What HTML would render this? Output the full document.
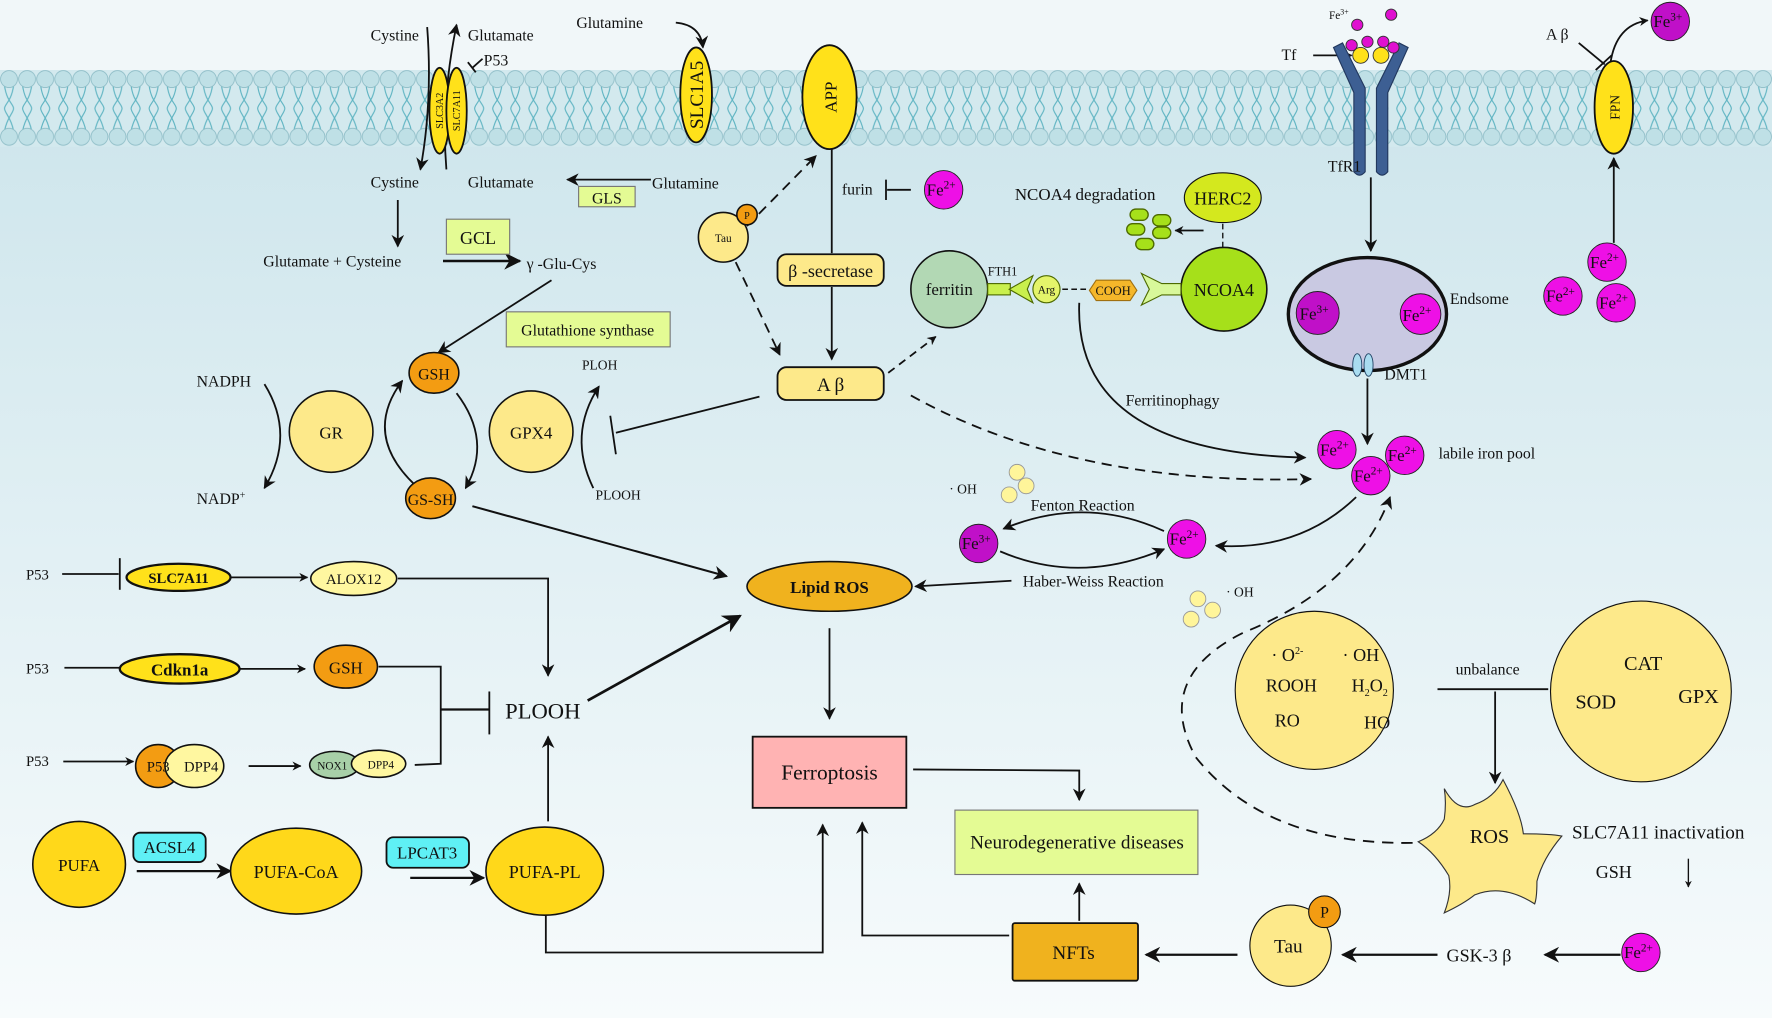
<!DOCTYPE html>
<html><head><meta charset="utf-8"><style>
html,body{margin:0;padding:0;width:1772px;height:1018px;overflow:hidden;background:#fff}
svg{display:block}
text{font-family:"Liberation Serif",serif;fill:#111}
</style></head><body>
<svg width="1772" height="1018" viewBox="0 0 1568 901" preserveAspectRatio="none" xmlns="http://www.w3.org/2000/svg">
<defs>
<linearGradient id="bg" x1="0" y1="0" x2="0" y2="1">
<stop offset="0" stop-color="#c9e3ea"/><stop offset="0.55" stop-color="#e2f0f4"/><stop offset="1" stop-color="#f7fbfc"/>
</linearGradient>
<pattern id="mem" x="0" y="62" width="16" height="68" patternUnits="userSpaceOnUse">
<path d="M4 14 C6 28 12 30 12 34 C12 38 6 42 4 54 M12 14 C10 28 4 30 4 34 C4 38 10 42 12 54" stroke="#5fb4c2" stroke-width="1" fill="none"/>
<circle cx="8" cy="8" r="7.5" fill="#bfe0e6" stroke="#8dbcc6" stroke-width="0.7"/>
<circle cx="8" cy="59" r="7.5" fill="#bfe0e6" stroke="#8dbcc6" stroke-width="0.7"/>
</pattern>
<marker id="a" viewBox="0 0 10 10" refX="9" refY="5" markerWidth="7" markerHeight="7" orient="auto-start-reverse"><path d="M0 0 L10 5 L0 10 L3 5 Z" fill="#111"/></marker>
<marker id="b" viewBox="0 0 10 10" refX="9" refY="5" markerWidth="5" markerHeight="5" orient="auto-start-reverse"><path d="M0 0 L10 5 L0 10 L3 5 Z" fill="#111"/></marker>
</defs>
<rect x="0" y="0" width="1568" height="901" fill="url(#bg)"/>
<rect x="0" y="0" width="1568" height="62" fill="#f1f7f9"/>
<rect x="0" y="62" width="1568" height="68" fill="#d3e9ee"/>
<rect x="0" y="62" width="1568" height="68" fill="url(#mem)"/>

<g stroke="#111" stroke-width="1.6" fill="none">
<path d="M378 24 Q383 90 372 150" marker-end="url(#a)"/>
<path d="M395 150 Q390 90 404 22" marker-end="url(#a)"/>
<path d="M427 52 L418 60"/><path d="M414 55 L421 64"/>
<path d="M598 20 Q620 22 622 42" marker-end="url(#a)"/>
<path d="M576 159 L502 159" marker-end="url(#a)"/>
<path d="M352 177 L352 218" marker-end="url(#a)"/>
<path d="M392 231 L460 231" stroke-width="2.2" marker-end="url(#a)"/>
<path d="M488 248 L388 312" marker-end="url(#a)"/>
<path d="M234 340 Q262 385 234 432" marker-end="url(#a)"/>
<path d="M368 430 Q320 385 356 337" marker-end="url(#a)"/>
<path d="M404 348 Q436 390 412 432" marker-end="url(#a)"/>
<path d="M525 432 Q502 385 530 342" marker-end="url(#a)"/>
<path d="M672 351 L545 383"/><path d="M540 368 L545 402"/>
<path d="M418 448 L643 510" stroke-width="1.8" marker-end="url(#a)"/>
<path d="M736 132 L736 224"/>
<path d="M736 254 L736 318" marker-end="url(#a)"/>
<path d="M785 168 L806 168"/><path d="M784 159 L784 177"/>
<path d="M661 200 L722 138" stroke-dasharray="9 6" marker-end="url(#a)"/>
<path d="M651 232 L690 314" stroke-dasharray="9 6" marker-end="url(#a)"/>
<path d="M786 330 L828 298" stroke-dasharray="7 5" marker-end="url(#b)"/>
<path d="M806 350 Q950 430 1160 424" stroke-dasharray="9 6" marker-end="url(#a)"/>
<path d="M955 268 Q950 400 1155 405" marker-end="url(#a)"/>
<path d="M1082 198 L1082 222" stroke-dasharray="5 3" stroke-width="1.2"/>
<path d="M1065 204 L1040 204" marker-end="url(#b)"/>
<path d="M940 256 L962 256" stroke-dasharray="5 3" stroke-width="1.4"/>
<path d="M1162 49 L1196 49" marker-end="url(#b)"/>
<path d="M1213 157 L1213 222" marker-end="url(#a)"/>
<path d="M1186 278 L1230 278" stroke-width="2.2" marker-end="url(#a)"/>
<path d="M1265 300 Q1215 298 1210 312"/>
<path d="M1210 335 L1210 393" marker-end="url(#a)"/>
<path d="M1428 215 L1428 140" marker-end="url(#a)"/>
<path d="M1425 56 Q1430 22 1458 18" marker-end="url(#b)"/>
<path d="M1397 38 L1420 57"/><path d="M1412 62 L1426 49"/>
<path d="M1030 470 Q960 438 888 468" marker-end="url(#a)"/>
<path d="M885 488 Q955 518 1030 486" marker-end="url(#a)"/>
<path d="M1200 440 Q1150 488 1076 483" marker-end="url(#a)"/>
<path d="M895 514 L810 519" marker-end="url(#a)"/>
<path d="M55 508 L105 508"/><path d="M106 494 L106 522"/>
<path d="M204 511 L272 511" marker-end="url(#b)"/>
<path d="M352 512 L485 512 L485 598" marker-end="url(#a)"/>
<path d="M57 591 L120 591" marker-end="url(#b)"/>
<path d="M212 592 L270 592" marker-end="url(#b)"/>
<path d="M335 590 L390 590 L390 676 L367 677"/>
<path d="M390 628 L433 628" stroke-width="2"/><path d="M433 612 L433 650"/>
<path d="M56 674 L118 674" marker-end="url(#b)"/>
<path d="M220 678 L266 678" marker-end="url(#b)"/>
<path d="M520 620 L655 545" stroke-width="2.4" marker-end="url(#a)"/>
<path d="M485 727 L485 652" marker-end="url(#a)"/>
<path d="M121 771 L204 771" stroke-width="2" marker-end="url(#a)"/>
<path d="M363 777 L428 777" stroke-width="2" marker-end="url(#a)"/>
<path d="M483 810 L483 843 L728 843 L728 730" marker-end="url(#a)"/>
<path d="M734 556 L734 636" marker-end="url(#a)"/>
<path d="M808 681 L955 682 L955 708" marker-end="url(#a)"/>
<path d="M955 815 L955 782" marker-end="url(#a)"/>
<path d="M893 828 L763 828 L763 728" marker-end="url(#a)"/>
<path d="M1095 845 L1014 845" stroke-width="2" marker-end="url(#a)"/>
<path d="M1272 845 L1188 845" stroke-width="2" marker-end="url(#a)"/>
<path d="M1434 845 L1367 845" stroke-width="2" marker-end="url(#a)"/>
<path d="M1272 610 L1370 610"/>
<path d="M1323 612 L1323 693" marker-end="url(#a)"/>
<path d="M1494 760 L1494 785" stroke-width="1.2" marker-end="url(#b)"/>
<path d="M1250 746 Q1120 748 1058 670 Q1020 600 1100 560 Q1200 520 1230 440" stroke-dasharray="10 7" marker-end="url(#a)"/>
</g>

<g stroke="#111" stroke-width="1.6">
<ellipse cx="389" cy="98" rx="9" ry="38" fill="#ffe11a"/>
<ellipse cx="404" cy="98" rx="9" ry="38" fill="#ffe11a"/>
<ellipse cx="616" cy="84" rx="14" ry="42" fill="#ffe11a"/>
<ellipse cx="734" cy="86" rx="24" ry="46" fill="#ffe11a"/>
<ellipse cx="1428" cy="95" rx="17" ry="41" fill="#ffe11a"/>
</g>
<text transform="translate(392,98) rotate(-90)" font-size="9" text-anchor="middle">SLC3A2</text>
<text transform="translate(407,98) rotate(-90)" font-size="9" text-anchor="middle">SLC7A11</text>
<text transform="translate(622,84) rotate(-90)" font-size="17" text-anchor="middle">SLC1A5</text>
<text transform="translate(740,86) rotate(-90)" font-size="15" text-anchor="middle">APP</text>
<text transform="translate(1433,95) rotate(-90)" font-size="12" text-anchor="middle">FPN</text>

<g fill="#3d5f93" stroke="#22385e" stroke-width="1">
<path d="M1180 42 L1188 38 L1208 78 L1208 152 Q1203 158 1198 152 L1198 82 Z"/>
<path d="M1246 42 L1238 38 L1218 78 L1218 152 Q1223 158 1228 152 L1228 82 Z"/>
</g>
<g stroke="#333" stroke-width="0.8">
<circle cx="1204" cy="49" r="7" fill="#ffe11a"/><circle cx="1222" cy="49" r="7" fill="#ffe11a"/>
<g fill="#e010d0"><circle cx="1196" cy="40" r="5"/><circle cx="1210" cy="37" r="5"/><circle cx="1224" cy="37" r="5"/><circle cx="1233" cy="42" r="5"/><circle cx="1201" cy="22" r="5"/><circle cx="1231" cy="13" r="5"/></g>
</g>
<text x="1176" y="17" font-size="10">Fe<tspan dy="-4" font-size="7">3+</tspan></text>
<text x="1134" y="53" font-size="14">Tf</text>
<text x="1175" y="152" font-size="14">TfR1</text>

<g stroke="#777" stroke-width="1">
<rect x="512" y="165" width="50" height="18" fill="#e4fb94"/>
<rect x="395" y="194" width="56" height="31" fill="#e4fb94"/>
<rect x="448" y="276" width="145" height="31" fill="#e4fb94"/>
<rect x="845" y="717" width="215" height="57" fill="#e4fb94"/>
</g>
<g stroke="#111" stroke-width="1.6">
<rect x="688" y="225" width="94" height="28" rx="8" fill="#fde98a"/>
<rect x="688" y="325" width="94" height="29" rx="8" fill="#fde98a"/>
<rect x="666" y="652" width="136" height="63" fill="#ffb3b3"/>
<rect x="896" y="817" width="111" height="51" rx="2" fill="#f0b21e"/>
<rect x="118" y="737" width="64" height="26" rx="6" fill="#5ff0f5"/>
<rect x="342" y="741" width="73" height="27" rx="6" fill="#5ff0f5"/>
</g>

<g stroke="#111" stroke-width="1.4">
<ellipse cx="384" cy="330" rx="22" ry="18" fill="#f39c12"/>
<ellipse cx="381" cy="441" rx="22" ry="18" fill="#f39c12"/>
<ellipse cx="293" cy="382" rx="37" ry="36" fill="#fde98a"/>
<ellipse cx="470" cy="382" rx="37" ry="36" fill="#fde98a"/>
<circle cx="640" cy="210" r="22" fill="#fde98a"/>
<circle cx="661" cy="190" r="9" fill="#f39c12"/>
<ellipse cx="734" cy="519" rx="73" ry="22" fill="#f0b21e"/>
<ellipse cx="158" cy="511" rx="46" ry="12" fill="#ffe11a" stroke-width="2"/>
<ellipse cx="313" cy="512" rx="38" ry="15" fill="#fff7a0"/>
<ellipse cx="159" cy="592" rx="53" ry="13" fill="#ffe11a" stroke-width="2"/>
<ellipse cx="306" cy="590" rx="28" ry="19" fill="#f39c12"/>
<ellipse cx="140" cy="678" rx="20" ry="19" fill="#f39c12"/>
<ellipse cx="172" cy="678" rx="26" ry="19" fill="#fff7a0"/>
<ellipse cx="296" cy="677" rx="22" ry="12" fill="#a8d0a8"/>
<ellipse cx="335" cy="676" rx="24" ry="12" fill="#fff7a0"/>
<ellipse cx="70" cy="765" rx="41" ry="38" fill="#ffd81a"/>
<ellipse cx="262" cy="771" rx="58" ry="38" fill="#ffd81a"/>
<ellipse cx="482" cy="771" rx="52" ry="39" fill="#ffd81a"/>
<circle cx="1142" cy="837" r="36" fill="#fde98a" stroke-width="1"/>
<circle cx="1172" cy="807" r="14" fill="#f39c12" stroke-width="1"/>
<circle cx="1163" cy="611" r="70" fill="#fde98a" stroke-width="1"/>
<circle cx="1452" cy="612" r="80" fill="#fde98a" stroke-width="1"/>
<ellipse cx="1210" cy="278" rx="70" ry="50" fill="#c9c9e2" stroke-width="3"/>
<circle cx="840" cy="256" r="34" fill="#b2d8b4"/>
<ellipse cx="1083" cy="256" rx="38" ry="37" fill="#a6e01a"/>
<ellipse cx="1082" cy="175" rx="34" ry="22" fill="#d4e81e" stroke-width="1"/>
</g>
<path d="M1278 698 Q1290 720 1305 712 Q1322 706 1330 690 Q1346 720 1348 738 Q1372 738 1382 740 Q1365 760 1360 780 Q1360 795 1358 800 Q1330 782 1305 792 Q1295 800 1278 808 Q1285 790 1282 775 Q1270 755 1255 745 Q1272 738 1278 725 Q1280 710 1278 698 Z" fill="#fde98a" stroke="#333" stroke-width="1"/>

<g stroke="#4d6a00" stroke-width="1">
<rect x="874" y="251" width="20" height="10" fill="#c9f04d"/>
<path d="M893 256 L914 244 L909 256 L914 268 Z" fill="#c9f04d"/>
<circle cx="926" cy="256" r="12" fill="#e4f46a"/>
<path d="M1045 251 L1028 251 L1010 242 L1017 256 L1010 270 L1028 261 L1045 261 Z" fill="#d8f89a"/>
<path d="M970 248 L1000 248 L1006 257 L1000 266 L970 266 L964 257 Z" fill="#f5b72a" stroke="#a07010"/>
</g>
<g fill="#a6e01a" stroke="#4d6a00" stroke-width="1.2">
<rect x="1000" y="185" width="16" height="10" rx="5"/><rect x="1020" y="190" width="16" height="10" rx="5"/>
<rect x="997" y="198" width="16" height="10" rx="5"/><rect x="1020" y="201" width="16" height="10" rx="5"/>
<rect x="1005" y="211" width="16" height="10" rx="5"/>
</g>

<g stroke="#222" stroke-width="0.8">
<g fill="#ee10e6">
<circle cx="835" cy="168" r="17"/><circle cx="1257" cy="278" r="18"/>
<circle cx="1183" cy="398" r="17"/><circle cx="1243" cy="403" r="17"/><circle cx="1213" cy="421" r="17"/>
<circle cx="1422" cy="232" r="17"/><circle cx="1383" cy="262" r="17"/><circle cx="1430" cy="268" r="17"/>
<circle cx="1050" cy="477" r="17"/><circle cx="1452" cy="843" r="17"/>
</g>
<g fill="#c010c8">
<circle cx="1166" cy="277" r="19"/><circle cx="866" cy="481" r="17"/><circle cx="1478" cy="19" r="17"/>
</g>
<g fill="#fff59a" stroke="#999">
<circle cx="900" cy="418" r="7"/><circle cx="908" cy="430" r="7"/><circle cx="893" cy="438" r="7"/>
<circle cx="1060" cy="530" r="7"/><circle cx="1073" cy="540" r="7"/><circle cx="1054" cy="548" r="7"/>
</g>
</g>
<ellipse cx="1201" cy="323" rx="4" ry="10" fill="#a9dcf0" stroke="#246" stroke-width="0.8"/>
<ellipse cx="1211" cy="323" rx="4" ry="10" fill="#a9dcf0" stroke="#246" stroke-width="0.8"/>

<g font-size="15">
<text x="820" y="173">Fe<tspan dy="-6" font-size="10">2+</tspan></text>
<text x="1241" y="284">Fe<tspan dy="-6" font-size="10">2+</tspan></text>
<text x="1150" y="283">Fe<tspan dy="-6" font-size="10">3+</tspan></text>
<text x="1168" y="403">Fe<tspan dy="-6" font-size="10">2+</tspan></text>
<text x="1228" y="408">Fe<tspan dy="-6" font-size="10">2+</tspan></text>
<text x="1198" y="426">Fe<tspan dy="-6" font-size="10">2+</tspan></text>
<text x="1407" y="237">Fe<tspan dy="-6" font-size="10">2+</tspan></text>
<text x="1368" y="267">Fe<tspan dy="-6" font-size="10">2+</tspan></text>
<text x="1415" y="273">Fe<tspan dy="-6" font-size="10">2+</tspan></text>
<text x="1035" y="482">Fe<tspan dy="-6" font-size="10">2+</tspan></text>
<text x="1437" y="848">Fe<tspan dy="-6" font-size="10">2+</tspan></text>
<text x="851" y="486">Fe<tspan dy="-6" font-size="10">3+</tspan></text>
<text x="1463" y="24">Fe<tspan dy="-6" font-size="10">3+</tspan></text>
</g>

<g font-size="14">
<text x="328" y="36">Cystine</text><text x="414" y="36">Glutamate</text>
<text x="428" y="58">P53</text>
<text x="510" y="25">Glutamine</text>
<text x="328" y="166">Cystine</text><text x="414" y="166">Glutamate</text>
<text x="577" y="167">Glutamine</text>
<text x="537" y="180" text-anchor="middle">GLS</text>
<text x="423" y="216" text-anchor="middle" font-size="16">GCL</text>
<text x="233" y="236">Glutamate + Cysteine</text>
<text x="466" y="238">γ -Glu-Cys</text>
<text x="520" y="297" text-anchor="middle">Glutathione synthase</text>
<text x="384" y="336" text-anchor="middle">GSH</text>
<text x="381" y="447" text-anchor="middle">GS-SH</text>
<text x="293" y="388" text-anchor="middle" font-size="15">GR</text>
<text x="470" y="388" text-anchor="middle" font-size="15">GPX4</text>
<text x="174" y="342">NADPH</text>
<text x="174" y="446">NADP<tspan dy="-5" font-size="9">+</tspan></text>
<text x="515" y="327" font-size="12">PLOH</text>
<text x="527" y="442" font-size="12">PLOOH</text>
<text x="640" y="214" text-anchor="middle" font-size="10">Tau</text>
<text x="661" y="194" text-anchor="middle" font-size="9">P</text>
<text x="745" y="172">furin</text>
<text x="735" y="245" text-anchor="middle" font-size="16">β -secretase</text>
<text x="735" y="346" text-anchor="middle" font-size="17">A β</text>
<text x="840" y="261" text-anchor="middle" font-size="15">ferritin</text>
<text x="874" y="244" font-size="11">FTH1</text>
<text x="926" y="260" text-anchor="middle" font-size="10">Arg</text>
<text x="985" y="261" text-anchor="middle" font-size="11">COOH</text>
<text x="1083" y="262" text-anchor="middle" font-size="16">NCOA4</text>
<text x="1082" y="181" text-anchor="middle" font-size="16">HERC2</text>
<text x="898" y="177" font-size="15">NCOA4 degradation</text>
<text x="996" y="359">Ferritinophagy</text>
<text x="1283" y="269">Endsome</text>
<text x="1225" y="336">DMT1</text>
<text x="1273" y="406">labile iron pool</text>
<text x="1368" y="35">A β</text>
<text x="840" y="437" font-size="12">· OH</text>
<text x="912" y="452">Fenton Reaction</text>
<text x="905" y="519">Haber-Weiss Reaction</text>
<text x="1085" y="528" font-size="12">· OH</text>
<text x="734" y="525" text-anchor="middle" font-size="15" font-weight="bold">Lipid ROS</text>
<text x="23" y="513" font-size="13">P53</text>
<text x="23" y="596" font-size="13">P53</text>
<text x="23" y="678" font-size="13">P53</text>
<text x="158" y="516" text-anchor="middle" font-size="13" font-weight="bold">SLC7A11</text>
<text x="313" y="517" text-anchor="middle" font-size="13">ALOX12</text>
<text x="159" y="598" text-anchor="middle" font-size="15" font-weight="bold">Cdkn1a</text>
<text x="306" y="596" text-anchor="middle" font-size="15">GSH</text>
<text x="140" y="683" text-anchor="middle" font-size="13">P53</text>
<text x="178" y="683" text-anchor="middle" font-size="13">DPP4</text>
<text x="294" y="681" text-anchor="middle" font-size="10">NOX1</text>
<text x="337" y="680" text-anchor="middle" font-size="10">DPP4</text>
<text x="447" y="636" font-size="20">PLOOH</text>
<text x="70" y="771" text-anchor="middle" font-size="15">PUFA</text>
<text x="150" y="755" text-anchor="middle" font-size="15">ACSL4</text>
<text x="262" y="777" text-anchor="middle" font-size="16">PUFA-CoA</text>
<text x="378" y="760" text-anchor="middle" font-size="15">LPCAT3</text>
<text x="482" y="777" text-anchor="middle" font-size="16">PUFA-PL</text>
<text x="734" y="690" text-anchor="middle" font-size="19">Ferroptosis</text>
<text x="953" y="751" text-anchor="middle" font-size="17">Neurodegenerative diseases</text>
<text x="950" y="849" text-anchor="middle" font-size="17">NFTs</text>
<text x="1140" y="843" text-anchor="middle" font-size="17">Tau</text>
<text x="1172" y="812" text-anchor="middle" font-size="14">P</text>
<text x="1280" y="851" font-size="16">GSK-3 β</text>
<text x="1125" y="585" font-size="16">· O<tspan dy="-6" font-size="9">2-</tspan></text>
<text x="1188" y="585" font-size="16">· OH</text>
<text x="1120" y="612" font-size="16">ROOH</text>
<text x="1196" y="612" font-size="16">H<tspan dy="4" font-size="9">2</tspan><tspan dy="-4">O</tspan><tspan dy="4" font-size="9">2</tspan></text>
<text x="1128" y="643" font-size="16">RO</text>
<text x="1207" y="645" font-size="16">HO</text>
<text x="1288" y="597" font-size="14">unbalance</text>
<text x="1437" y="593" font-size="18">CAT</text>
<text x="1394" y="627" font-size="18">SOD</text>
<text x="1485" y="622" font-size="18">GPX</text>
<text x="1318" y="746" text-anchor="middle" font-size="18">ROS</text>
<text x="1391" y="742" font-size="17">SLC7A11 inactivation</text>
<text x="1412" y="777" font-size="16">GSH</text>
</g>
</svg>
</body></html>
